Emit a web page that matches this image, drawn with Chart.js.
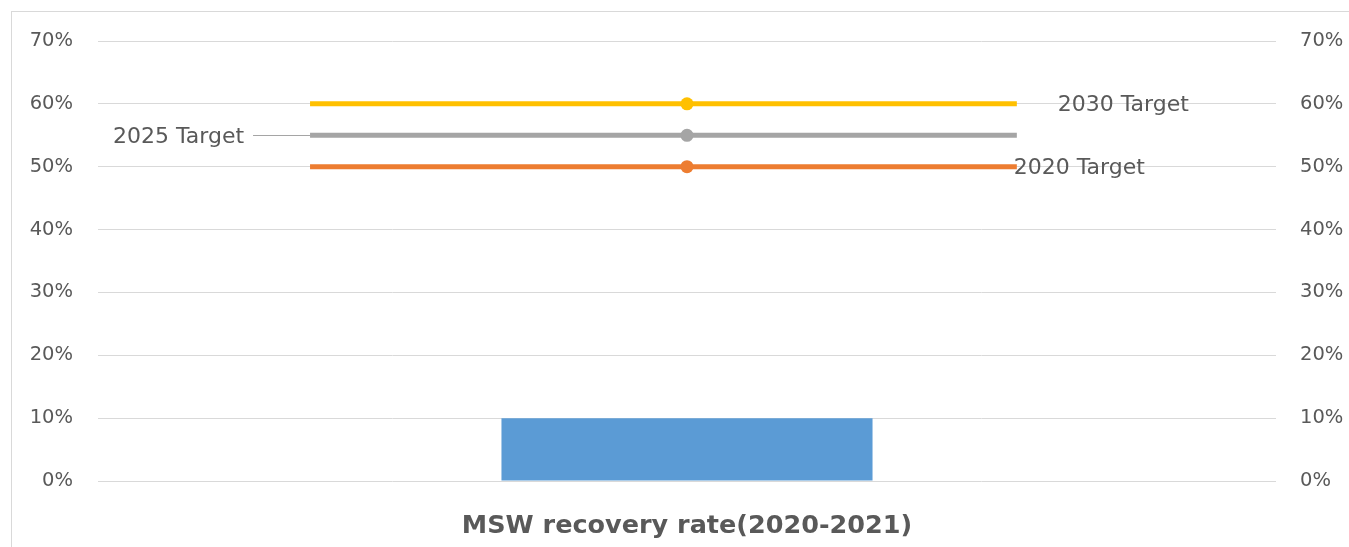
<!DOCTYPE html>
<html>
<head>
<meta charset="utf-8">
<script src="https://cdn.jsdelivr.net/npm/chart.js@4.4.1/dist/chart.umd.min.js"></script>
<style>
  html, body { margin: 0; padding: 0; background: #ffffff; }
  #wrap { position: relative; width: 1349px; height: 547px; overflow: hidden; }
  #frame { position: absolute; left: 11px; top: 11px; width: 1400px; height: 600px;
           border: 1px solid #d9d9d9; box-sizing: border-box; }
  #c { position: absolute; left: 0; top: 0; }
</style>
</head>
<body>
<div id="wrap">
  <div id="frame"></div>
  <canvas id="c" width="1349" height="547"></canvas>
</div>
<script>
// ---- data ----
const categories = ['MSW recovery rate(2020-2021)'];
const recoveryRate = [0.10];

const targetNames = ['2030 Target', '2025 Target', '2020 Target'];
const targetRates = [0.60, 0.55, 0.50];

// where each target line starts, peaks (marker) and ends on the 0–1 span scale
const targetSpan = [0.18, 0.50, 0.78];

const yTickValues = [0, 0.1, 0.2, 0.3, 0.4, 0.5, 0.6, 0.7];

// ---- styles ----
const TEXT = '#595959';
const GRID = '#d9d9d9';
const FONT = "'DejaVu Sans', sans-serif";
const barColor = '#5b9bd5';
const targetColors = ['#ffc000', '#a5a5a5', '#ed7d31'];
// label placement next to each target line
const labelPlacement = [
  { side: 'right', dx: 41, dy: 1 },
  { side: 'left', dx: 66, dy: 1.5, leader: 57 },
  { side: 'right', dx: -3, dy: 1.5 }
];

const pct = v => Math.round(v * 100) + '%';

const targetDatasets = targetNames.map((name, i) => ({
  type: 'line',
  label: name,
  xAxisID: 'xs',
  yAxisID: 'y',
  data: targetSpan.map(x => ({ x: x, y: targetRates[i] })),
  borderColor: targetColors[i],
  backgroundColor: targetColors[i],
  borderWidth: 5,
  pointRadius: ctx => (ctx.dataIndex === 1 ? 6.5 : 0),
  pointHoverRadius: ctx => (ctx.dataIndex === 1 ? 6.5 : 0),
  pointBorderWidth: 0,
  order: 0
}));

const targetLabels = {
  id: 'targetLabels',
  afterDatasetsDraw(chart) {
    const { ctx } = chart;
    const xs = chart.scales.xs;
    const y = chart.scales.y;
    const xStart = xs.getPixelForValue(targetSpan[0]);
    const xEnd = xs.getPixelForValue(targetSpan[targetSpan.length - 1]);
    ctx.save();
    ctx.font = '22px ' + FONT;
    ctx.fillStyle = TEXT;
    ctx.textBaseline = 'middle';
    targetNames.forEach((name, i) => {
      const ly = y.getPixelForValue(targetRates[i]);
      const p = labelPlacement[i];
      if (p.side === 'right') {
        ctx.textAlign = 'left';
        ctx.fillText(name, xEnd + p.dx, ly + p.dy);
      } else {
        if (p.leader) {
          ctx.strokeStyle = targetColors[i];
          ctx.lineWidth = 1.2;
          ctx.beginPath();
          ctx.moveTo(xStart - p.leader, Math.round(ly) + 0.5);
          ctx.lineTo(xStart, Math.round(ly) + 0.5);
          ctx.stroke();
        }
        ctx.textAlign = 'right';
        ctx.fillText(name, xStart - p.dx, ly + p.dy);
      }
    });
    ctx.restore();
  }
};

new Chart(document.getElementById('c'), {
  type: 'bar',
  data: {
    labels: categories,
    datasets: [
      {
        type: 'bar',
        label: 'MSW recovery rate',
        data: recoveryRate,
        backgroundColor: barColor,
        xAxisID: 'x',
        yAxisID: 'y',
        categoryPercentage: 1,
        barPercentage: 0.315,
        grouped: false,
        order: 1
      },
      ...targetDatasets
    ]
  },
  options: {
    responsive: false,
    animation: false,
    layout: { padding: { top: 41, left: 0, right: 0, bottom: 0 } },
    plugins: { legend: { display: false }, tooltip: { enabled: false } },
    scales: {
      x: {
        type: 'category',
        position: 'bottom',
        min: 0, max: 0,
        offset: true,
        grid: { display: false },
        border: { display: false },
        ticks: { color: TEXT, font: { family: FONT, size: 25.5, weight: 'bold' }, padding: 22 },
        afterFit: s => { s.height = 66; }
      },
      xs: {
        type: 'linear', position: 'bottom', min: 0, max: 1,
        offset: false, grid: { offset: false }, display: false
      },
      y: {
        position: 'left',
        min: 0, max: 0.7,
        afterBuildTicks: s => { s.ticks = yTickValues.map(v => ({ value: v })); },
        grid: { color: GRID, lineWidth: 1, drawTicks: false },
        border: { display: false },
        ticks: { color: TEXT, font: { family: FONT, size: 19.5 }, padding: 25, callback: pct },
        afterFit: s => { s.width = 98; }
      },
      y2: {
        position: 'right',
        min: 0, max: 0.7,
        afterBuildTicks: s => { s.ticks = yTickValues.map(v => ({ value: v })); },
        grid: { display: false, drawTicks: false },
        border: { display: false },
        ticks: { color: TEXT, font: { family: FONT, size: 19.5 }, padding: 24, callback: pct },
        afterFit: s => { s.width = 73; }
      }
    }
  },
  plugins: [targetLabels]
});
</script>
</body>
</html>
